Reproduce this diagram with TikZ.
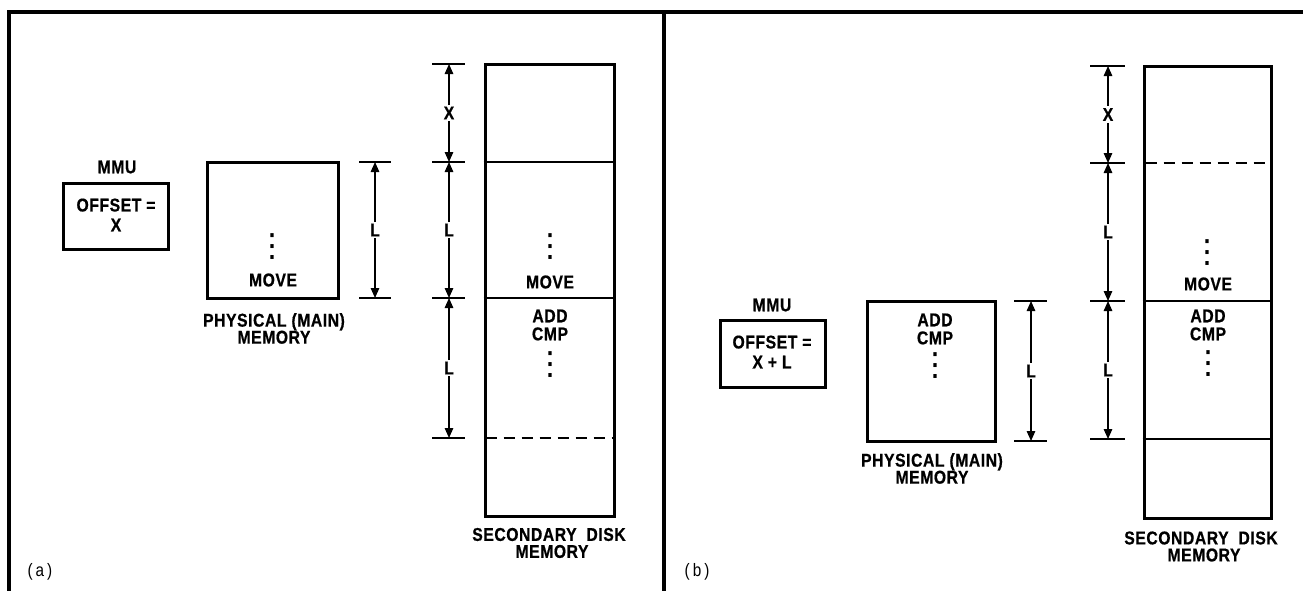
\documentclass[tikz,border=0pt]{standalone}
\usepackage{fontspec}
\setsansfont{Liberation Sans}[FakeStretch=0.85, LetterSpace=3, BoldFeatures={FakeBold=0.7}]
\newfontfamily\dotfont{DejaVu Sans}
\usetikzlibrary{arrows.meta}

\tikzset{
    lbl/.style = {font=\sffamily\bfseries\fontsize{18.5}{18}\selectfont, align=center, inner sep=0pt},
    dotcol/.style = {font=\dotfont\fontsize{32}{32}\selectfont, inner sep=0pt},
    box/.style = {draw, line width=3pt, inner sep=0pt},
    dim/.style = {line width=1.4pt, {Triangle[length=10pt,width=8.5pt]}-{Triangle[length=10pt,width=8.5pt]}},
    tick/.style = {line width=1.4pt},
    dimlbl/.style = {font=\sffamily\bfseries\fontsize{18.5}{18}\selectfont, fill=white, inner sep=2pt},
    caption/.style = {font=\sffamily\fontsize{18}{18}\selectfont, inner sep=0pt},
    frame/.style = {line width=3.5pt}
}

\begin{document}
\begin{tikzpicture}[x=1pt, y=-1pt]
            \useasboundingbox (0,0) rectangle (1303,590);

            % frame
            \coordinate (fbl) at (9,592);
            \coordinate (ftl) at (9,12);
            \coordinate (ftr) at (1305,12);
            \coordinate (fmt) at (664,12);
            \coordinate (fmb) at (664,592);
            \draw[frame] (fbl) -- (ftl) -- (ftr);
            \draw[frame] (fmt) -- (fmb);

            % ---------------- (a) ----------------
            {
                \node[lbl] (mmuAlbl) at (117,167) {MMU};
                \node[box, minimum width=105pt, minimum height=66pt] (mmuA) at (115.5,216.5) {};
                \node[lbl] (mmuAtxt) at (116,215) {OFFSET =\\[2pt]X};

                \node[box, minimum width=131pt, minimum height=136pt] (physA) at (273,230) {};
                \node[dotcol] (physAdots) at (272,247) {⋮};
                \node[lbl] (physAmove) at (273,280) {MOVE};
                \node[lbl] (physAlbl) at (274,328.5) {PHYSICAL (MAIN)\\[-1pt]MEMORY};

                \node[box, minimum width=129pt, minimum height=452pt] (diskA) at (549.5,290) {};
                \node[dotcol] (diskAdots1) at (550,247) {⋮};
                \node[lbl] (diskAmove) at (550,282) {MOVE};
                \node[lbl] (diskAadd) at (550,325) {ADD\\CMP};
                \node[dotcol] (diskAdots2) at (550,365) {⋮};
                \node[lbl] (diskAlbl) at (549,543) {SECONDARY\ \ DISK\\[-1pt]\hspace*{6pt}MEMORY};
                \node[caption] (capA) at (40,572) {(\,a\,)};
            }

            \coordinate (a0) at (449,64);
            \coordinate (a1) at (449,162);
            \coordinate (a2) at (449,298);
            \coordinate (a3) at (449,438);
            \coordinate (p0) at (375,162);
            \coordinate (p1) at (375,298);

            \draw[line width=1.6pt] (a1 -| diskA.west) -- (a1 -| diskA.east);
            \draw[line width=1.6pt] (a2 -| diskA.west) -- (a2 -| diskA.east);
            \draw[line width=1.6pt, dash pattern=on 11pt off 7pt] ([xshift=2pt]a3 -| diskA.west) -- ([xshift=-3pt]a3 -| diskA.east);

            \foreach \c in {a0,a1,a2,a3}
                \draw[tick] ([xshift=-17pt]\c) -- ([xshift=16pt]\c);
            \foreach \c in {p0,p1}
                \draw[tick] ([xshift=-16pt]\c) -- ([xshift=16pt]\c);

            \draw[dim] (a0) -- node[dimlbl] (xA) {X} (a1);
            \draw[dim] (a1) -- node[dimlbl] (lA1) {L} (a2);
            \draw[dim] (a2) -- node[dimlbl] (lA2) {L} (a3);
            \draw[dim] (p0) -- node[dimlbl] (lA0) {L} (p1);

            % ---------------- (b) ----------------
            {
                \node[lbl] (mmuBlbl) at (772,305) {MMU};
                \node[box, minimum width=105pt, minimum height=67pt] (mmuB) at (772.5,353.5) {};
                \node[lbl] (mmuBtxt) at (772,352) {OFFSET =\\[2pt]X + L};

                \node[box, minimum width=128pt, minimum height=140pt] (physB) at (931,371) {};
                \node[lbl] (physBadd) at (935,329) {ADD\\CMP};
                \node[dotcol] (physBdots) at (935,366) {⋮};
                \node[lbl] (physBlbl) at (932,468.5) {PHYSICAL (MAIN)\\[-1pt]MEMORY};

                \node[box, minimum width=127pt, minimum height=452pt] (diskB) at (1207.5,292) {};
                \node[dotcol] (diskBdots1) at (1207,253) {⋮};
                \node[lbl] (diskBmove) at (1208,284) {MOVE};
                \node[lbl] (diskBadd) at (1208,325) {ADD\\CMP};
                \node[dotcol] (diskBdots2) at (1208,364) {⋮};
                \node[lbl] (diskBlbl) at (1201,546.5) {SECONDARY\ \ DISK\\[-1pt]\hspace*{6pt}MEMORY};
                \node[caption] (capB) at (697,572) {(\,b\,)};
            }

            \coordinate (b0) at (1108,66);
            \coordinate (b1) at (1108,163);
            \coordinate (b2) at (1108,301);
            \coordinate (b3) at (1108,439);
            \coordinate (q0) at (1031,301);
            \coordinate (q1) at (1031,441);

            \draw[line width=1.6pt, dash pattern=on 11pt off 7pt] ([xshift=3pt]b1 -| diskB.west) -- ([xshift=-3pt]b1 -| diskB.east);
            \draw[line width=1.6pt] (b2 -| diskB.west) -- (b2 -| diskB.east);
            \draw[line width=1.6pt] (b3 -| diskB.west) -- (b3 -| diskB.east);

            \foreach \c in {b0,b1,b2,b3}
                \draw[tick] ([xshift=-18pt]\c) -- ([xshift=17pt]\c);
            \foreach \c in {q0,q1}
                \draw[tick] ([xshift=-17pt]\c) -- ([xshift=16pt]\c);

            \draw[dim] (b0) -- node[dimlbl] (xB) {X} (b1);
            \draw[dim] (b1) -- node[dimlbl] (lB1) {L} (b2);
            \draw[dim] (b2) -- node[dimlbl] (lB2) {L} (b3);
            \draw[dim] (q0) -- node[dimlbl] (lB0) {L} (q1);

        \end{tikzpicture}
\end{document}
